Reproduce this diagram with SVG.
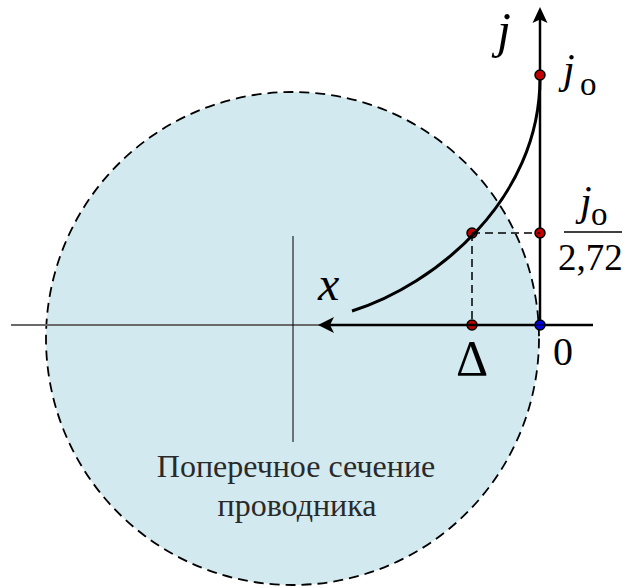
<svg xmlns="http://www.w3.org/2000/svg" width="627" height="588" viewBox="0 0 627 588">
<style>
.lbl{font-family:"Liberation Serif","Times New Roman",serif;fill:#000}
.it{font-style:italic}
.cap{font-family:"Liberation Serif","Times New Roman",serif;fill:#2a2a2a;font-size:32px}
.ax{stroke:#000;stroke-width:2.5;fill:none}
.dash{stroke:#000;stroke-width:1.5;stroke-dasharray:8 5;fill:none}
.rdot{fill:#c00000;stroke:#000;stroke-width:1.5}
.bdot{fill:#0000e0;stroke:#000;stroke-width:1.5}
</style>
<rect width="627" height="588" fill="#fff"/>
<g id="section">
<circle cx="292.5" cy="338.5" r="246.5" fill="#d2e9ef" stroke="#000" stroke-width="1.8" stroke-dasharray="10 6"/>
<text class="cap" x="296" y="477" text-anchor="middle">Поперечное сечение</text>
<text class="cap" x="297" y="516" text-anchor="middle">проводника</text>
</g>
<g id="points-under">
<circle cx="540" cy="233" r="5" class="rdot"/>
<circle cx="472" cy="233" r="5" class="rdot"/>
<circle cx="472" cy="325" r="5" class="rdot"/>
</g>
<g id="connectors">
<line x1="11" y1="325" x2="320" y2="325" stroke="#6a6a6a" stroke-width="2"/>
<line x1="293" y1="236" x2="293" y2="442" stroke="#000" stroke-width="1"/>
<line x1="330" y1="325" x2="593" y2="325" class="ax"/>
<path d="M318,325 L334,317 L330,325 L334,333 Z" fill="#000"/>
<line x1="540" y1="330" x2="540" y2="238" class="ax"/>
<line x1="540" y1="228" x2="540" y2="18" class="ax"/>
<path d="M540,7 L547.5,23 L540,19.5 L532.5,23 Z" fill="#000"/>
<path d="M540,78 C540,200 435,285 352,311" stroke="#000" stroke-width="3" fill="none"/>
<line x1="472" y1="233" x2="540" y2="233" class="dash"/>
<line x1="472" y1="233" x2="472" y2="325" class="dash"/>
<line x1="564" y1="232" x2="622" y2="232" stroke="#000" stroke-width="1.5"/>
</g>
<g id="points-over">
<circle cx="540" cy="75" r="5" class="rdot"/>
<circle cx="540" cy="325" r="5" class="bdot"/>
<line x1="536" y1="325" x2="544" y2="325" stroke="#000" stroke-width="1"/>
</g>
<g id="labels">
<text class="lbl it" x="497" y="47" font-size="50">j</text>
<text class="lbl it" x="563" y="83" font-size="42">j</text>
<text class="lbl" x="580" y="95" font-size="33">o</text>
<text class="lbl it" x="580" y="215" font-size="42">j</text>
<text class="lbl" x="591" y="225" font-size="33">o</text>
<text class="lbl" x="558" y="270" font-size="37">2,72</text>
<text class="lbl it" x="318" y="300" font-size="48">x</text>
<text class="lbl" x="553" y="365" font-size="40">0</text>
<text class="lbl" x="456" y="375" font-size="50">Δ</text>
</g>
</svg>
